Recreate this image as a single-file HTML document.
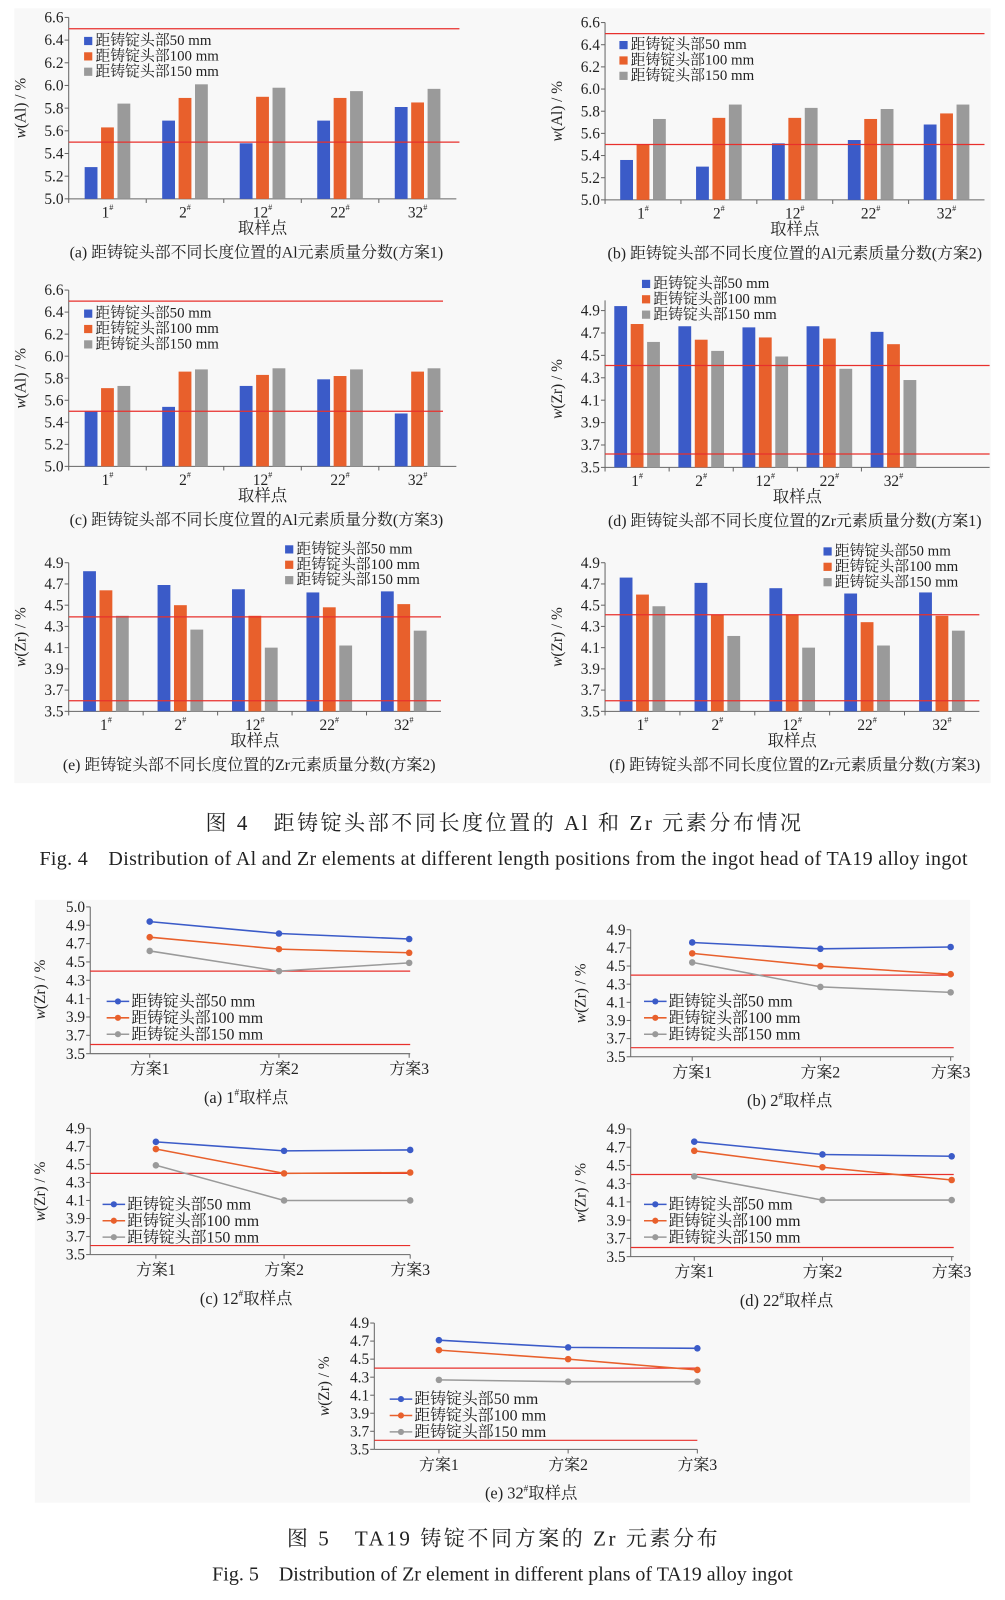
<!DOCTYPE html>
<html><head><meta charset="utf-8">
<style>
html,body{margin:0;padding:0;background:#fff;}
svg{display:block;}
text{font-family:"Liberation Serif","Noto Serif CJK SC",serif;fill:#222;}
</style></head>
<body>
<svg id="s" xmlns="http://www.w3.org/2000/svg" width="1005" height="1600" viewBox="0 0 980 1561" preserveAspectRatio="none">
<rect x="14" y="8" width="952" height="756" fill="#f8f8f8"/>
<rect x="34" y="878" width="912" height="588" fill="#f8f8f8"/>
<text x="492" y="810" text-anchor="middle" font-size="20.5" style="letter-spacing:2.5px">图 4　距铸锭头部不同长度位置的 Al 和 Zr 元素分布情况</text>
<text x="491" y="844" text-anchor="middle" font-size="19.5" textLength="905" lengthAdjust="spacing">Fig. 4　Distribution of Al and Zr elements at different length positions from the ingot head of TA19 alloy ingot</text>
<text x="491" y="1508" text-anchor="middle" font-size="20.5" style="letter-spacing:2.5px">图 5　TA19 铸锭不同方案的 Zr 元素分布</text>
<text x="490" y="1542" text-anchor="middle" font-size="19.5">Fig. 5　Distribution of Zr element in different plans of TA19 alloy ingot</text>
</svg>
<script>
var S=document.getElementById('s'),NS='http://www.w3.org/2000/svg';
function el(t,a,txt){var e=document.createElementNS(NS,t);for(var k in a)e.setAttribute(k,a[k]);if(txt!=null)e.textContent=txt;S.appendChild(e);return e;}
var C=['#3b5bc8','#e8602c','#9a9a9a'];
var LEG=['距铸锭头部50 mm','距铸锭头部100 mm','距铸锭头部150 mm'];
var CAT=['1','2','12','22','32'];
function yl(x,y,t){var e=el('text',{x:x,y:y,'font-size':15,'text-anchor':'middle',transform:'rotate(-90 '+x+' '+y+')'});
 var a=document.createElementNS(NS,'tspan');a.setAttribute('font-style','italic');a.textContent='w';e.appendChild(a);
 var b=document.createElementNS(NS,'tspan');b.textContent=t;e.appendChild(b);}
function bar(o){
 var x0=o.x0,x1=o.x1,yt=o.yt,yb=o.yb,vt=o.vt,vb=o.vb;
 function Y(v){return yb-(v-vb)/(vt-vb)*(yb-yt);}
 el('line',{x1:x0,y1:yb,x2:x1,y2:yb,stroke:'#666'});
 el('line',{x1:x0,y1:yt-(o.ext||0),x2:x0,y2:yb,stroke:'#666'});
 for(var i=0;i<o.ticks.length;i++){var v=o.ticks[i],y=Y(v);
  el('line',{x1:x0-4,y1:y,x2:x0,y2:y,stroke:'#666'});
  el('text',{x:x0-5,y:y+5,'font-size':15,'text-anchor':'end'},v.toFixed(1));}
 var W=o.gw,bw=12.5,g=3.5;
 for(var j=0;j<5;j++){var cx=x0+W*(j+0.5);
  el('line',{x1:x0+W*j,y1:yb,x2:x0+W*j,y2:yb+4,stroke:'#666'});
  for(var k=0;k<3;k++){var v=o.d[k][j],bx=cx-1.5*bw-g+k*(bw+g);
   el('rect',{x:bx,y:Y(v),width:bw,height:yb-Y(v),fill:C[k]});}
  var t=el('text',{x:cx,y:yb+18,'font-size':15,'text-anchor':'middle'},CAT[j]);
  var ts=document.createElementNS(NS,'tspan');ts.setAttribute('font-size','8');ts.setAttribute('dy','-7');ts.textContent='#';t.appendChild(ts);}
 for(var r=0;r<o.red.length;r++)el('line',{x1:x0,y1:Y(o.red[r]),x2:o.rx||x1,y2:Y(o.red[r]),stroke:'#e8302c','stroke-width':1.2});
 for(var k=0;k<3;k++){el('rect',{x:o.lx,y:o.ly+k*15-8,width:8,height:8,fill:C[k]});
  el('text',{x:o.lx+11,y:o.ly+k*15,'font-size':14.5},LEG[k]);}
 yl(o.x0-42,(yt+yb)/2,'('+o.yl+') / %');
 el('text',{x:(x0+x1)/2,y:yb+34,'font-size':16,'text-anchor':'middle'},'取样点');
 el('text',{x:o.cx,y:yb+57,'font-size':15.5,'text-anchor':'middle'},o.cap);
}
var alT=[6.6,6.4,6.2,6.0,5.8,5.6,5.4,5.2,5.0],zrT=[4.9,4.7,4.5,4.3,4.1,3.9,3.7,3.5];
bar({x0:67,x1:445,rx:448,yt:17,yb:194,vt:6.6,vb:5.0,ticks:alT,gw:75.6,red:[6.5,5.5],lx:82,ly:44,yl:'Al',cx:250,
 d:[[5.28,5.69,5.49,5.69,5.81],[5.63,5.89,5.90,5.89,5.85],[5.84,6.01,5.98,5.95,5.97]],cap:'(a) 距铸锭头部不同长度位置的Al元素质量分数(方案1)'});
bar({x0:590,x1:960,yt:22,yb:195,vt:6.6,vb:5.0,ticks:alT,gw:74,red:[6.5,5.5],lx:604,ly:48,yl:'Al',cx:775,
 d:[[5.36,5.30,5.51,5.54,5.68],[5.50,5.74,5.74,5.73,5.78],[5.73,5.86,5.83,5.82,5.86]],cap:'(b) 距铸锭头部不同长度位置的Al元素质量分数(方案2)'});
bar({x0:67,x1:445,rx:432,yt:283,yb:455,vt:6.6,vb:5.0,ticks:alT,gw:75.6,red:[6.5,5.5],lx:82,ly:310,yl:'Al',cx:250,
 d:[[5.50,5.54,5.73,5.79,5.48],[5.71,5.86,5.83,5.82,5.86],[5.73,5.88,5.89,5.88,5.89]],cap:'(c) 距铸锭头部不同长度位置的Al元素质量分数(方案3)'});
bar({x0:590,x1:965,yt:303,yb:456,vt:4.9,vb:3.5,ext:10,ticks:zrT,gw:62.5,red:[4.41,3.62],lx:626,ly:281,yl:'Zr',cx:775,
 d:[[4.94,4.76,4.75,4.76,4.71],[4.78,4.64,4.66,4.65,4.60],[4.62,4.54,4.49,4.38,4.28]],cap:'(d) 距铸锭头部不同长度位置的Zr元素质量分数(方案1)'});
bar({x0:67,x1:430,yt:549,yb:694,vt:4.9,vb:3.5,ticks:zrT,gw:72.6,red:[4.39,3.6],lx:278,ly:540,yl:'Zr',cx:243,
 d:[[4.82,4.69,4.65,4.62,4.63],[4.64,4.50,4.40,4.48,4.51],[4.40,4.27,4.10,4.12,4.26]],cap:'(e) 距铸锭头部不同长度位置的Zr元素质量分数(方案2)'});
bar({x0:590,x1:955,yt:549,yb:694,vt:4.9,vb:3.5,ticks:zrT,gw:73,red:[4.41,3.6],lx:803,ly:542,yl:'Zr',cx:775,
 d:[[4.76,4.71,4.66,4.61,4.62],[4.60,4.41,4.41,4.34,4.40],[4.49,4.21,4.10,4.12,4.26]],cap:'(f) 距铸锭头部不同长度位置的Zr元素质量分数(方案3)'});

function line(o){
 var x0=o.x0,x1=o.x1,yb=o.yb,st=o.st;
 function Y(v){return yb-(v-3.5)/0.2*st;}
 el('line',{x1:x0,y1:yb,x2:x1,y2:yb,stroke:'#666'});
 var tk=o.five?[3.5,3.7,3.9,4.1,4.3,4.5,4.7,4.9,5.0]:[3.5,3.7,3.9,4.1,4.3,4.5,4.7,4.9];
 el('line',{x1:x0,y1:yb-(tk.length-1)*st,x2:x0,y2:yb,stroke:'#666'});
 for(var i=0;i<tk.length;i++){var y=yb-i*st;
  el('line',{x1:x0-4,y1:y,x2:x0,y2:y,stroke:'#666'});
  el('text',{x:x0-5,y:y+5,'font-size':15,'text-anchor':'end'},tk[i].toFixed(1));}
 for(var r=0;r<2;r++){var v=[4.4,3.6][r];el('line',{x1:x0,y1:Y(v),x2:x1,y2:Y(v),stroke:'#e8302c','stroke-width':1.2});}
 for(var j=0;j<3;j++){el('line',{x1:o.cx[j],y1:yb,x2:o.cx[j],y2:yb+4,stroke:'#666'});
  el('text',{x:o.cx[j],y:yb+20,'font-size':15.5,'text-anchor':'middle'},'方案'+(j+1));}
 for(var k=0;k<3;k++){var p='';for(var j=0;j<3;j++)p+=o.cx[j]+','+Y(o.d[k][j])+' ';
  el('polyline',{points:p,fill:'none',stroke:C[k],'stroke-width':1.5});
  for(var j=0;j<3;j++)el('circle',{cx:o.cx[j],cy:Y(o.d[k][j]),r:3.2,fill:C[k]});}
 for(var k=0;k<3;k++){var y=o.ly+k*16;
  el('line',{x1:o.lx,y1:y-4,x2:o.lx+22,y2:y-4,stroke:C[k],'stroke-width':1.5});
  el('circle',{cx:o.lx+11,cy:y-4,r:3,fill:C[k]});
  el('text',{x:o.lx+24,y:y+1,'font-size':15.5},LEG[k]);}
 yl(x0-44,yb-3.5*st,'(Zr) / %');
 var t=el('text',{x:o.capx,y:yb+48,'font-size':16,'text-anchor':'middle'},'('+o.lab+') '+o.n);
 var ts=document.createElementNS(NS,'tspan');ts.setAttribute('font-size','9');ts.setAttribute('dy','-7');ts.textContent='#';t.appendChild(ts);
 var ts2=document.createElementNS(NS,'tspan');ts2.setAttribute('dy','7');ts2.textContent='取样点';t.appendChild(ts2);
}
line({x0:88,x1:400,yb:1028,st:17.9,five:1,cx:[146,272,399],lx:104,ly:981,capx:240,lab:'a',n:'1',
 d:[[4.94,4.81,4.75],[4.77,4.64,4.60],[4.62,4.40,4.49]]});
line({x0:615,x1:930,yb:1031,st:17.7,cx:[675,800,927],lx:628,ly:981,capx:770,lab:'b',n:'2',
 d:[[4.76,4.69,4.71],[4.64,4.50,4.41],[4.54,4.27,4.21]]});
line({x0:88,x1:400,yb:1224,st:17.6,cx:[152,277,400],lx:100,ly:1179,capx:240,lab:'c',n:'12',
 d:[[4.75,4.65,4.66],[4.67,4.40,4.41],[4.49,4.10,4.10]]});
line({x0:615,x1:930,yb:1226,st:17.8,cx:[677,802,928],lx:628,ly:1179,capx:767,lab:'d',n:'22',
 d:[[4.76,4.62,4.60],[4.66,4.48,4.34],[4.38,4.12,4.12]]});
line({x0:365,x1:680,yb:1414,st:17.6,cx:[428,554,680],lx:380,ly:1369,capx:518,lab:'e',n:'32',
 d:[[4.71,4.63,4.62],[4.60,4.50,4.38],[4.27,4.25,4.25]]});
</script>
</body></html>
